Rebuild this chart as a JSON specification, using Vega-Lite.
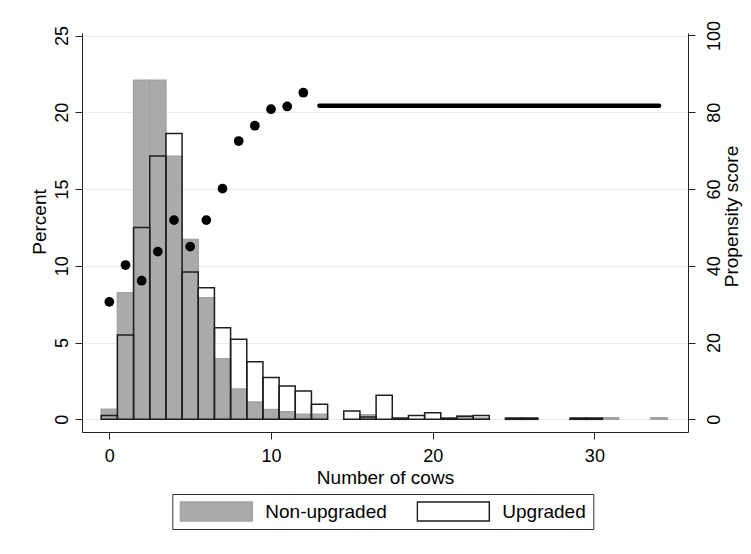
{
  "$schema": "https://vega.github.io/schema/vega-lite/v6.json",
  "width": 606,
  "height": 399,
  "autosize": {"type": "none"},
  "padding": {"left": 82, "top": 33, "right": 63, "bottom": 122},
  "background": "white",
  "config": {
    "view": {"stroke": null},
    "font": "Liberation Sans",
    "axis": {
      "domainColor": "#222222",
      "tickColor": "#222222",
      "labelColor": "black",
      "titleColor": "black",
      "titleFontWeight": "normal",
      "labelFontSize": 18,
      "titleFontSize": 19,
      "tickSize": 7,
      "labelFont": "Liberation Sans",
      "titleFont": "Liberation Sans"
    }
  },
  "datasets": {
    "hist": [
      {"group": "Non-upgraded", "lo": -0.5, "hi": 0.5, "pct": 0.65},
      {"group": "Non-upgraded", "lo": 0.5, "hi": 1.5, "pct": 8.24},
      {"group": "Non-upgraded", "lo": 1.5, "hi": 2.5, "pct": 22.09},
      {"group": "Non-upgraded", "lo": 2.5, "hi": 3.5, "pct": 22.09},
      {"group": "Non-upgraded", "lo": 3.5, "hi": 4.5, "pct": 17.14},
      {"group": "Non-upgraded", "lo": 4.5, "hi": 5.5, "pct": 11.72},
      {"group": "Non-upgraded", "lo": 5.5, "hi": 6.5, "pct": 7.92},
      {"group": "Non-upgraded", "lo": 6.5, "hi": 7.5, "pct": 3.95},
      {"group": "Non-upgraded", "lo": 7.5, "hi": 8.5, "pct": 1.97},
      {"group": "Non-upgraded", "lo": 8.5, "hi": 9.5, "pct": 1.13},
      {"group": "Non-upgraded", "lo": 9.5, "hi": 10.5, "pct": 0.64},
      {"group": "Non-upgraded", "lo": 10.5, "hi": 11.5, "pct": 0.5},
      {"group": "Non-upgraded", "lo": 11.5, "hi": 12.5, "pct": 0.33},
      {"group": "Non-upgraded", "lo": 12.5, "hi": 13.5, "pct": 0.33},
      {"group": "Non-upgraded", "lo": 15.5, "hi": 16.5, "pct": 0.3},
      {"group": "Non-upgraded", "lo": 21.5, "hi": 22.5, "pct": 0.22},
      {"group": "Non-upgraded", "lo": 22.5, "hi": 23.5, "pct": 0.08},
      {"group": "Non-upgraded", "lo": 24.5, "hi": 25.5, "pct": 0.08},
      {"group": "Non-upgraded", "lo": 25.5, "hi": 26.5, "pct": 0.08},
      {"group": "Non-upgraded", "lo": 28.5, "hi": 29.5, "pct": 0.08},
      {"group": "Non-upgraded", "lo": 29.5, "hi": 30.5, "pct": 0.08},
      {"group": "Non-upgraded", "lo": 30.5, "hi": 31.5, "pct": 0.1},
      {"group": "Non-upgraded", "lo": 33.5, "hi": 34.5, "pct": 0.1},
      {"group": "Upgraded", "lo": -0.5, "hi": 0.5, "pct": 0.24},
      {"group": "Upgraded", "lo": 0.5, "hi": 1.5, "pct": 5.49},
      {"group": "Upgraded", "lo": 1.5, "hi": 2.5, "pct": 12.5},
      {"group": "Upgraded", "lo": 2.5, "hi": 3.5, "pct": 17.16},
      {"group": "Upgraded", "lo": 3.5, "hi": 4.5, "pct": 18.62},
      {"group": "Upgraded", "lo": 4.5, "hi": 5.5, "pct": 9.59},
      {"group": "Upgraded", "lo": 5.5, "hi": 6.5, "pct": 8.57},
      {"group": "Upgraded", "lo": 6.5, "hi": 7.5, "pct": 5.96},
      {"group": "Upgraded", "lo": 7.5, "hi": 8.5, "pct": 5.21},
      {"group": "Upgraded", "lo": 8.5, "hi": 9.5, "pct": 3.75},
      {"group": "Upgraded", "lo": 9.5, "hi": 10.5, "pct": 2.73},
      {"group": "Upgraded", "lo": 10.5, "hi": 11.5, "pct": 2.17},
      {"group": "Upgraded", "lo": 11.5, "hi": 12.5, "pct": 1.84},
      {"group": "Upgraded", "lo": 12.5, "hi": 13.5, "pct": 0.98},
      {"group": "Upgraded", "lo": 14.5, "hi": 15.5, "pct": 0.54},
      {"group": "Upgraded", "lo": 15.5, "hi": 16.5, "pct": 0.15},
      {"group": "Upgraded", "lo": 16.5, "hi": 17.5, "pct": 1.56},
      {"group": "Upgraded", "lo": 17.5, "hi": 18.5, "pct": 0.08},
      {"group": "Upgraded", "lo": 18.5, "hi": 19.5, "pct": 0.24},
      {"group": "Upgraded", "lo": 19.5, "hi": 20.5, "pct": 0.43},
      {"group": "Upgraded", "lo": 20.5, "hi": 21.5, "pct": 0.08},
      {"group": "Upgraded", "lo": 21.5, "hi": 22.5, "pct": 0.2},
      {"group": "Upgraded", "lo": 22.5, "hi": 23.5, "pct": 0.24},
      {"group": "Upgraded", "lo": 24.5, "hi": 25.5, "pct": 0.08},
      {"group": "Upgraded", "lo": 25.5, "hi": 26.5, "pct": 0.08},
      {"group": "Upgraded", "lo": 28.5, "hi": 29.5, "pct": 0.08},
      {"group": "Upgraded", "lo": 29.5, "hi": 30.5, "pct": 0.08}
    ],
    "dots": [
      {"cows": 0, "score": 30.6},
      {"cows": 1, "score": 40.2},
      {"cows": 2, "score": 36.1},
      {"cows": 3, "score": 43.7},
      {"cows": 4, "score": 51.9},
      {"cows": 5, "score": 45.0},
      {"cows": 6, "score": 51.9},
      {"cows": 7, "score": 60.1},
      {"cows": 8, "score": 72.5},
      {"cows": 9, "score": 76.5},
      {"cows": 10, "score": 80.8},
      {"cows": 11, "score": 81.5},
      {"cows": 12, "score": 85.1}
    ],
    "flat": [
      {"cows": 13, "score": 81.7},
      {"cows": 34, "score": 81.7}
    ]
  },
  "layer": [
    {
      "data": {"name": "hist"},
      "mark": {"type": "bar", "strokeWidth": 1.5},
      "encoding": {
        "x": {
          "field": "lo", "type": "quantitative",
          "scale": {"domain": [-1.69, 35.79], "nice": false, "zero": false},
          "axis": {"values": [0, 10, 20, 30], "grid": false, "title": "Number of cows", "labelBaseline": "alphabetic", "labelPadding": 22, "labelFlush": false, "titleY": 51, "titleX": 303, "titleBaseline": "alphabetic"}
        },
        "x2": {"field": "hi"},
        "y": {
          "field": "pct", "type": "quantitative", "stack": null,
          "scale": {"domain": [-0.827, 25.17], "nice": false, "zero": false},
          "axis": {"values": [0, 5, 10, 15, 20, 25], "grid": true, "gridColor": "#ebebeb", "gridWidth": 1, "title": "Percent", "labelAngle": -90, "labelAlign": "center", "labelBaseline": "alphabetic", "labelPadding": 8, "titleAngle": -90, "titleX": -37, "titleY": 188.5, "titleAlign": "center", "titleBaseline": "alphabetic"}
        },
        "y2": {"datum": 0},
        "fill": {
          "field": "group", "type": "nominal",
          "scale": {"domain": ["Non-upgraded", "Upgraded"], "range": ["#aaaaaa", "transparent"]},
          "legend": {"title": null, "orient": "none", "legendX": 90.3, "legendY": 461, "direction": "horizontal", "columns": 2, "symbolType": "M-1,-0.264H1V0.264H-1Z", "symbolSize": 5184, "clipHeight": 21, "labelFontSize": 19, "labelOffset": 12, "columnPadding": 29, "padding": 7, "strokeColor": "#333333", "fillColor": "white", "symbolStrokeWidth": 1.5, "labelColor": "black", "labelFont": "Liberation Sans", "labelLimit": 300}
        },
        "stroke": {
          "field": "group", "type": "nominal",
          "scale": {"domain": ["Non-upgraded", "Upgraded"], "range": ["#a3a3a3", "#1e1e1e"]},
          "legend": {"title": null, "orient": "none", "legendX": 90.3, "legendY": 461, "direction": "horizontal", "columns": 2, "symbolType": "M-1,-0.264H1V0.264H-1Z", "symbolSize": 5184, "clipHeight": 21, "labelFontSize": 19, "labelOffset": 12, "columnPadding": 29, "padding": 7, "strokeColor": "#333333", "fillColor": "white", "symbolStrokeWidth": 1.5, "labelColor": "black", "labelFont": "Liberation Sans", "labelLimit": 300}
        }
      }
    },
    {
      "layer": [
        {
          "data": {"name": "dots"},
          "mark": {"type": "circle", "size": 95, "color": "black", "opacity": 1},
          "encoding": {
            "x": {
              "field": "cows", "type": "quantitative",
              "scale": {"domain": [-1.69, 35.79], "nice": false, "zero": false},
              "axis": {"values": [0, 10, 20, 30], "grid": false, "title": "Number of cows", "labelBaseline": "alphabetic", "labelPadding": 22, "labelFlush": false, "titleY": 51, "titleX": 303, "titleBaseline": "alphabetic"}
            },
            "y": {
              "field": "score", "type": "quantitative",
              "scale": {"domain": [-3.31, 100.65], "nice": false, "zero": false},
              "axis": {"orient": "right", "values": [0, 20, 40, 60, 80, 100], "grid": false, "title": "Propensity score", "labelAngle": -90, "labelAlign": "center", "labelBaseline": "alphabetic", "labelPadding": 24, "titleAngle": -90, "titleX": 49, "titleY": 183, "titleAlign": "center", "titleBaseline": "alphabetic"}
            }
          }
        },
        {
          "data": {"name": "flat"},
          "mark": {"type": "line", "color": "black", "strokeWidth": 4.5, "strokeCap": "round"},
          "encoding": {
            "x": {
              "field": "cows", "type": "quantitative",
              "scale": {"domain": [-1.69, 35.79], "nice": false, "zero": false},
              "axis": {"values": [0, 10, 20, 30], "grid": false, "title": "Number of cows", "labelBaseline": "alphabetic", "labelPadding": 22, "labelFlush": false, "titleY": 51, "titleX": 303, "titleBaseline": "alphabetic"}
            },
            "y": {
              "field": "score", "type": "quantitative",
              "scale": {"domain": [-3.31, 100.65], "nice": false, "zero": false},
              "axis": {"orient": "right", "values": [0, 20, 40, 60, 80, 100], "grid": false, "title": "Propensity score", "labelAngle": -90, "labelAlign": "center", "labelBaseline": "alphabetic", "labelPadding": 24, "titleAngle": -90, "titleX": 49, "titleY": 183, "titleAlign": "center", "titleBaseline": "alphabetic"}
            }
          }
        }
      ]
    }
  ],
  "resolve": {"scale": {"y": "independent"}}
}
